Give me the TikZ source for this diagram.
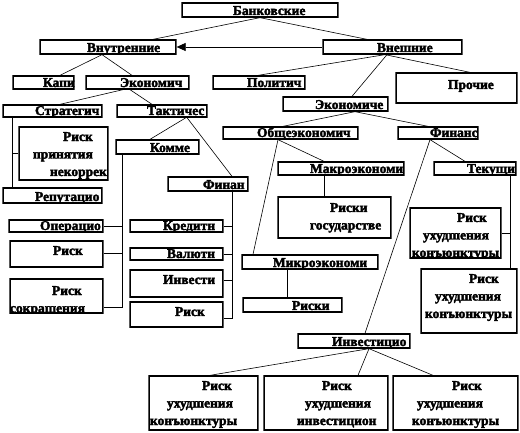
\documentclass[tikz,border=0pt]{standalone}
\usepackage{fontspec}
\setmainfont{Liberation Serif}[BoldFeatures={FakeBold=2.5}]
\usetikzlibrary{arrows.meta}
\tikzset{
  box/.style={draw=black, line width=1.3pt, inner sep=0pt, font=\bfseries\fontsize{13.5}{17.5}\selectfont},
  conn/.style={draw=black, line width=0.6pt},
}
% single-line box: name, x1, y1, x2, y2, text left x, text  (baseline 2pt above bottom)
\newcommand{\lbox}[7]{%
  \pgfmathsetmacro\bw{#4-#2}\pgfmathsetmacro\bh{#5-#3}\pgfmathsetmacro\tx{#6-#2}%
  \pgfmathsetmacro\sh{(#3+#5)/2-(#5-2)}%
  \begin{scope}
  \clip (#2-0.7,#3-0.7) rectangle (#4+0.7,#5+0.7);
  \node[box, minimum width=\bw pt, minimum height=\bh pt] (#1) at ({(#2+#4)/2},{(#3+#5)/2})
    {\raisebox{\sh pt}[0pt][0pt]{\hbox to \bw pt{\hskip\tx pt #7\hss}}};
  \end{scope}}
% multi-line box: name, x1, y1, x2, y2, first baseline y, lines (\lineat{indent}{text})
\newcommand{\tbox}[7]{%
  \pgfmathsetmacro\bw{#4-#2}\pgfmathsetmacro\bh{#5-#3}%
  \pgfmathsetmacro\sh{(#3+#5)/2-#6}%
  \begin{scope}
  \clip (#2-0.7,#3-0.7) rectangle (#4+0.7,#5+0.7);
  \node[box, minimum width=\bw pt, minimum height=\bh pt] (#1) at ({(#2+#4)/2},{(#3+#5)/2})
    {\raisebox{\sh pt}[0pt][0pt]{\parbox[t]{\bw pt}{\baselineskip=17.5pt #7}}};
  \end{scope}}
\newcommand{\lineat}[2]{\hbox to \hsize{\hskip #1pt #2\hss}}
\begin{document}
\begin{tikzpicture}[x=1pt,y=-1pt]
\fill[white] (0,0) rectangle (520,433);
\useasboundingbox (0,0) rectangle (520,433);

\lbox{bank}{182}{3}{338}{17}{233}{Банковские}
\lbox{inner}{40}{40}{176}{54}{87}{Внутренние}
\lbox{outer}{323}{40}{462}{54}{377}{Внешние}
\lbox{kapi}{13}{76}{74}{89}{43}{Капи}
\lbox{econ1}{86}{76}{189}{89}{120}{Экономич}
\lbox{polit}{213}{76}{305}{89}{247}{Политич}
\tbox{proch}{396}{73}{517}{103}{89}{\lineat{52}{Прочие}}
\lbox{econ2}{283}{97}{388}{111}{315}{Экономиче}
\lbox{strat}{3}{105}{102}{117}{35}{Стратегич}
\lbox{takt}{117}{105}{207}{117}{147}{Тактичес}
\tbox{prin}{19}{127}{108}{180}{141}{\lineat{44}{Риск}\lineat{14}{принятия}\lineat{31}{некоррек}}
\lbox{rep}{3}{188}{102}{203}{35}{Репутацио}
\lbox{komm}{116}{140}{199}{154}{150}{Комме}
\lbox{fin1}{168}{177}{248}{191}{203}{Финан}
\lbox{oper}{9}{220}{103}{232}{40}{Операцио}
\tbox{poter}{10}{241}{103}{267}{255}{\lineat{43}{Риск}}
\tbox{sokr}{10}{279}{103}{313}{295}{\lineat{42}{Риск}\lineat{0}{сокращения}}
\lbox{kred}{130}{220}{223}{232}{163}{Кредитн}
\lbox{val}{130}{248}{223}{260}{167}{Валютн}
\tbox{inv1}{130}{270}{223}{297}{284}{\lineat{33}{Инвести}}
\tbox{risk1}{130}{302}{223}{327}{316}{\lineat{45}{Риск}}
\lbox{obsh}{223}{127}{358}{139}{257}{Общеэкономич}
\lbox{finans}{398}{127}{478}{139}{430}{Финанс}
\lbox{makro}{278}{162}{404}{175}{310}{Макроэкономи}
\lbox{tek}{434}{162}{516}{175}{467}{Текущи}
\tbox{gos}{278}{197}{391}{238}{212}{\lineat{52}{Риски}\lineat{32}{государстве}}
\tbox{kon1}{410}{208}{501}{258}{222}{\lineat{47}{Риск}\lineat{13}{ухудшения}\lineat{2}{конъюнктуры}}
\tbox{rynok}{421}{269}{517}{333}{283}{\lineat{48}{Риск}\lineat{14}{ухудшения}\lineat{4}{конъюнктуры}}
\lbox{mikro}{242}{255}{378}{269}{273}{Микроэкономи}
\lbox{riski}{243}{298}{342}{312}{292}{Риски}
\lbox{invst}{298}{334}{410}{348}{332}{Инвестицио}
\tbox{b1}{149}{376}{258}{430}{390}{\lineat{53}{Риск}\lineat{18}{ухудшения}\lineat{1}{конъюнктуры}}
\tbox{b2}{264}{376}{388}{430}{390}{\lineat{58}{Риск}\lineat{41}{ухудшения}\lineat{33}{инвестицион}}
\tbox{b3}{393}{376}{518}{430}{390}{\lineat{59}{Риск}\lineat{24}{ухудшения}\lineat{19}{конъюнктуры}}

\draw[conn] (bank.south -| 260,0) -- (inner.north -| 153,0);
\draw[conn] (bank.south -| 260,0) -- (outer.north -| 367,0);
\draw[conn, -{Triangle[length=9pt,width=8pt]}] (outer.west) -- (inner.east);
\draw[conn] (inner.south -| 102,0) -- (kapi.north -| 60,0);
\draw[conn] (inner.south -| 102,0) -- (econ1.north -| 132,0);
\draw[conn] (outer.south -| 385,0) -- (polit.north -| 258,0);
\draw[conn] (outer.south -| 385,0) -- (proch.north -| 470,0);
\draw[conn] (outer.south -| 387,0) -- (econ2.north -| 352,0);
\draw[conn] (econ1.south -| 123,0) -- (strat.north -| 60,0);
\draw[conn] (econ1.south -| 130,0) -- (takt.north -| 152,0);
\draw[conn] (strat.south -| 12,0) -- (rep.north -| 12,0);
\draw[conn] (prin.west) -- (prin.west -| 12,0);
\draw[conn] (takt.south -| 186,0) -- (komm.north -| 150,0);
\draw[conn] (takt.south -| 187,0) -- (fin1.north -| 232,0);
\coordinate (kb) at (122,307);
\draw[conn] (komm.south -| kb) -- (kb) -- (sokr.east |- kb);
\draw[conn] (oper.east) -- (oper.east -| kb);
\draw[conn] (poter.east |- 0,253) -- (kb |- 0,253);
\coordinate (fb) at (232,318);
\draw[conn] (fin1.south -| fb) -- (fb) -- (risk1.east |- fb);
\draw[conn] (kred.east) -- (kred.east -| fb);
\draw[conn] (val.east) -- (val.east -| fb);
\draw[conn] (inv1.east |- 0,280) -- (fb |- 0,280);
\draw[conn] (econ2.south -| 355,0) -- (obsh.north -| 283,0);
\draw[conn] (econ2.south -| 355,0) -- (finans.north -| 428,0);
\draw[conn] (obsh.south -| 278,0) -- (makro.north -| 324,0);
\draw[conn] (obsh.south -| 278,0) -- (mikro.north -| 253,0);
\draw[conn] (makro.south -| 324,0) -- (gos.north -| 324,0);
\draw[conn] (finans.south -| 430,0) -- (tek.north -| 465,0);
\draw[conn] (finans.south -| 430,0) -- (invst.north -| 365,0);
\coordinate (tb) at (510,233);
\draw[conn] (tek.south -| tb) -- (rynok.north -| tb);
\draw[conn] (kon1.east |- tb) -- (tb);
\draw[conn] (mikro.south -| 287,0) -- (riski.north -| 287,0);
\draw[conn] (invst.south -| 369,0) -- (b1.north -| 210,0);
\draw[conn] (invst.south -| 369,0) -- (b2.north -| 358,0);
\draw[conn] (invst.south -| 369,0) -- (b3.north -| 433,0);
\end{tikzpicture}
\end{document}
